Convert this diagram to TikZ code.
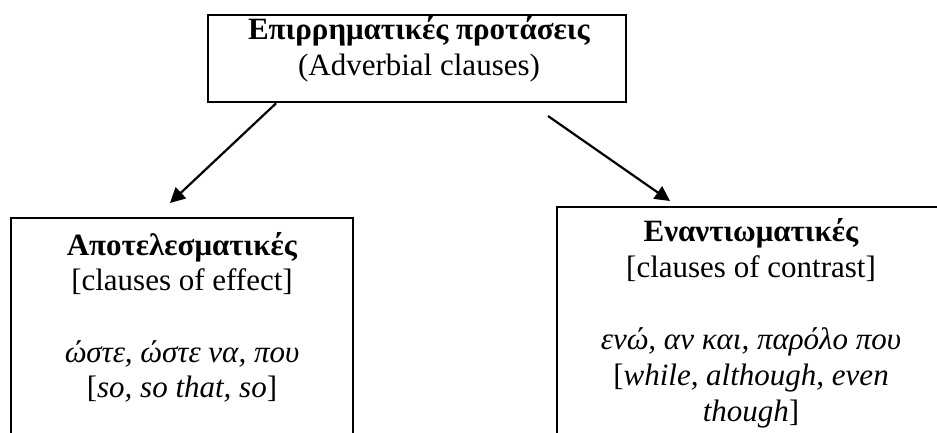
\documentclass[tikz,border=0pt]{standalone}
\usepackage{fontspec}
\setmainfont{Liberation Serif}
\usetikzlibrary{arrows.meta,calc}
\tikzset{
  boxshape/.style={draw=black, line width=2.4pt, rectangle, inner sep=0pt},
  txt/.style={anchor=base, inner sep=0pt, font=\fontsize{31}{35.6}\selectfont},
  arr/.style={line width=2.2pt, -{Triangle[length=15pt,width=15pt]}}
}
\begin{document}
\begin{tikzpicture}[x=1pt,y=-1pt]
\useasboundingbox (0,0) rectangle (937,432);
\clip (0,0) rectangle (937,432);
% boxes
\node[boxshape, minimum width=418pt, minimum height=87pt] (top) at (417,58.5) {};
\node[boxshape, minimum width=342pt, minimum height=280pt] (left) at (182,358) {};
\node[boxshape, minimum width=390pt, minimum height=290pt] (right) at (752,352) {};
% top text
\node[txt] (t1) at (419,39) {\textbf{Επιρρηματικές προτάσεις}};
\node[txt] (t2) at (419,75) {(Adverbial clauses)};
% left text
\node[txt] (l1) at (182,255) {\textbf{Αποτελεσματικές}};
\node[txt] (l2) at (182,290) {[clauses of effect]};
\node[txt] (l3) at (182,362) {\textit{ώστε, ώστε να, που}};
\node[txt] (l4) at (182,397) {[\textit{so, so that, so}]};
% right text
\node[txt] (r1) at (751,241) {\textbf{Εναντιωματικές}};
\node[txt] (r2) at (751,277) {[clauses of contrast]};
\node[txt] (r3) at (751,349) {\textit{ενώ, αν και, παρόλο που}};
\node[txt] (r4) at (751,385) {[\textit{while, although, even}};
\node[txt] (r5) at (751,421) {\textit{though}]};
% arrows
\coordinate (la) at ($(top.south west)!0.165!(top.south east)$);
\coordinate (lt) at (170,203);
\coordinate (ra) at (548,116);
\coordinate (rt) at (670,201);
\draw[arr] (la) -- (lt);
\draw[arr] (ra) -- (rt);
\end{tikzpicture}
\end{document}
